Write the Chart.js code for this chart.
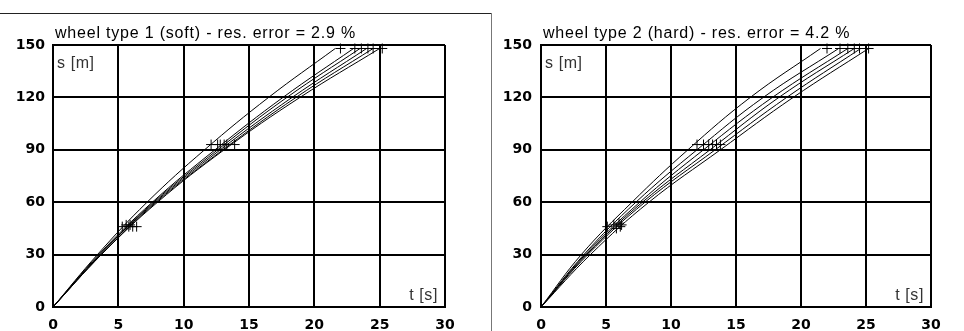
<!DOCTYPE html>
<html>
<head>
<meta charset="utf-8">
<script src="https://cdn.jsdelivr.net/npm/chart.js@4/dist/chart.umd.min.js"></script>
<style>
  body { margin: 0; background: #fff; width: 964px; height: 331px; overflow: hidden; position: relative; }
  .box { position: absolute; top: 0; }
  #hline { position: absolute; left: 0; top: 13px; width: 492px; height: 1px; background: #222; }
  #vline { position: absolute; left: 491px; top: 13px; width: 1px; height: 318px; background: #777; }
</style>
</head>
<body>
<div class="box" style="left:0;width:480px;height:331px"><canvas id="soft"></canvas></div>
<div class="box" style="left:493px;width:471px;height:331px"><canvas id="hard"></canvas></div>
<div id="hline"></div>
<div id="vline"></div>
<script>
// distances (m) at which the curve times were read
const sPoints = [0, 30, 60, 90, 120, 148];

// wheel type 1 (soft): times (s) of each curve at sPoints
const soft1 = [0, 3.4, 7.2, 11.6, 16.5, 21.6];
const soft2 = [0, 3.5, 7.6, 12.4, 17.6, 23.0];
const soft3 = [0, 3.6, 7.7, 12.6, 17.9, 23.5];
const soft4 = [0, 3.6, 7.8, 12.8, 18.3, 24.0];
const soft5 = [0, 3.7, 7.9, 13.0, 18.6, 24.5];
const soft6 = [0, 3.7, 8.0, 13.1, 18.9, 25.0];

// wheel type 2 (hard)
const hard1 = [0, 3.1, 7.0, 11.3, 16.1, 21.5];
const hard2 = [0, 3.3, 7.3, 12.0, 17.1, 22.9];
const hard3 = [0, 3.4, 7.6, 12.5, 17.8, 23.6];
const hard4 = [0, 3.5, 7.8, 13.0, 18.3, 24.1];
const hard5 = [0, 3.6, 8.0, 13.4, 18.9, 24.6];
const hard6 = [0, 3.8, 8.3, 13.8, 19.4, 25.2];

// measured points (+ markers)
const softMarkT = [5.3, 5.6, 5.8, 5.9, 6.1, 6.4, 12.1, 12.6, 12.8, 13.1, 13.3, 13.9, 22.0, 23.1, 23.6, 24.1, 24.5, 25.2];
const softMarkS = [46, 47, 46, 47, 46, 46, 93, 93, 93, 93, 93, 93, 148, 148, 148, 148, 148, 148];
const hardMarkT = [5.1, 5.6, 5.8, 6.0, 6.1, 6.2, 12.0, 12.5, 12.9, 13.2, 13.5, 13.8, 22.0, 23.0, 23.6, 24.1, 24.5, 25.2];
const hardMarkS = [46, 47, 45, 48, 46, 47, 93, 93, 93, 93, 93, 93, 148, 148, 148, 148, 148, 148];

const xTicks = [0, 5, 10, 15, 20, 25, 30];
const yTicks = [0, 30, 60, 90, 120, 150];

const tickFont = { family: "DejaVu Sans", size: 14, weight: "bold" };

const toPts = (ts, ss) => ts.map((t, i) => ({ x: t, y: ss[i] }));

const makeChart = (id, title, curves, markT, markS, axisW, padRight, labelPad) => {
  let datasets = curves.map((c) => ({
    data: toPts(c, sPoints),
    borderColor: "#000",
    borderWidth: 1,
    pointRadius: 0,
    fill: false,
    tension: 0.4,
  }));
  datasets.push({
    data: toPts(markT, markS),
    showLine: false,
    pointStyle: "cross",
    pointRadius: 5,
    borderColor: "#000",
    borderWidth: 1,
    clip: false,
  });

  const labels = {
    id: "labels",
    afterDraw(chart) {
      const ctx = chart.ctx;
      const a = chart.chartArea;
      ctx.save();
      ctx.fillStyle = "#000";
      ctx.font = "16px 'Liberation Sans'";
      ctx.letterSpacing = "0.8px";
      ctx.textAlign = "left";
      ctx.textBaseline = "alphabetic";
      ctx.fillText(title, a.left + 2, 38);
      ctx.fillStyle = "#333";
      ctx.font = "16px 'Liberation Sans'";
      ctx.letterSpacing = "0.6px";
      ctx.fillText("s [m]", a.left + 4, a.top + 23);
      ctx.textAlign = "right";
      ctx.fillText("t [s]", a.right - 7, a.bottom - 7);
      ctx.restore();
    },
  };

  return new Chart(id, {
    type: "line",
    data: { datasets: datasets },
    options: {
      responsive: true,
      maintainAspectRatio: false,
      animation: false,
      layout: { padding: { left: 0, right: padRight, top: 45, bottom: 0 } },
      plugins: { legend: { display: false }, tooltip: { enabled: false } },
      scales: {
        x: {
          type: "linear",
          min: 0,
          max: 30,
          afterBuildTicks: (s) => { s.ticks = xTicks.map((v) => ({ value: v })); },
          afterFit: (s) => { s.height = 24; },
          ticks: { color: "#000", font: tickFont, padding: 10, maxRotation: 0 },
          grid: { color: "#000", lineWidth: 2, drawTicks: false },
          border: { color: "#000", width: 2 },
        },
        y: {
          min: 0,
          max: 150,
          afterBuildTicks: (s) => { s.ticks = yTicks.map((v) => ({ value: v })); },
          afterFit: (s) => { s.width = axisW; },
          ticks: { color: "#000", font: tickFont, padding: labelPad },
          grid: { color: "#000", lineWidth: 2, drawTicks: false },
          border: { color: "#000", width: 2 },
        },
      },
    },
    plugins: [labels],
  });
};

makeChart("soft", "wheel type 1 (soft) - res. error = 2.9 %",
  [soft1, soft2, soft3, soft4, soft5, soft6], softMarkT, softMarkS, 53, 35, 8);
makeChart("hard", "wheel type 2 (hard) - res. error = 4.2 %",
  [hard1, hard2, hard3, hard4, hard5, hard6], hardMarkT, hardMarkS, 48, 33, 9);
</script>
</body>
</html>
